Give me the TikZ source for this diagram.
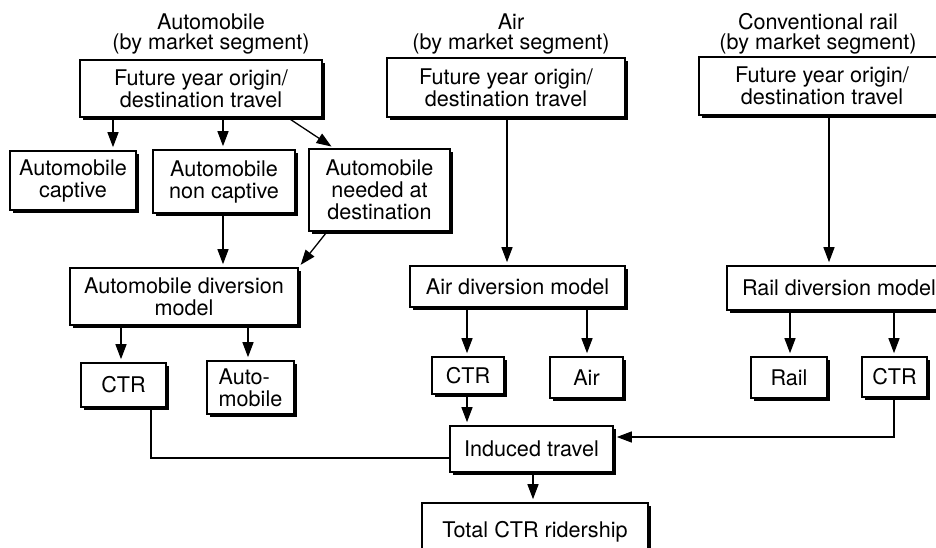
\documentclass[tikz,border=0pt]{standalone}
\usepackage{fontspec}
\setmainfont{TeX Gyre Heros}
\usetikzlibrary{arrows.meta,shadows,calc}
\newcommand\dgfont{\fontsize{21.6}{22}\selectfont}
\newcommand\dgtitlefont{\fontsize{21.6}{19.5}\selectfont}
\begin{document}
\begin{tikzpicture}[x=1pt,y=-1pt,
  box/.style={draw, line width=1.6pt, fill=white, align=center, inner sep=0pt,
    font=\dgfont,
    drop shadow={shadow xshift=3pt, shadow yshift=-3pt, fill=black, opacity=1}},
  titletext/.style={align=center, inner sep=0pt, font=\dgtitlefont},
  conn/.style={line width=1.3pt},
  arr/.style={conn, -{Triangle[length=15pt,width=11pt]}, shorten >=3pt}]
\path[use as bounding box] (0,0) rectangle (936,548);
\clip (0,0) rectangle (936,548);
\fill[white] (0,0) rectangle (936,548);

% titles
\node[titletext] (ta) at (211,34) {Automobile\\(by market segment)};
\node[titletext] (tb) at (511,34) {Air\\(by market segment)};
\node[titletext] (tc) at (818,34) {Conventional rail\\(by market segment)};

% automobile column
\node[box, minimum width=242, minimum height=57] (a0) at (201,88.5) {Future year origin/\\destination travel};
\node[box, minimum width=126, minimum height=59] (a1) at (73,180.5) {Automobile\\captive};
\node[box, minimum width=142, minimum height=63] (a2) at (224,181.5) {Automobile\\non captive};
\node[box, minimum width=141, minimum height=82] (a3) at (379.5,190) {Automobile\\needed at\\destination};
\node[box, minimum width=228, minimum height=57] (a4) at (184,296.5) {Automobile diversion\\model};
\node[box, minimum width=85, minimum height=44] (a5) at (123.5,385) {CTR};
\node[box, minimum width=87, minimum height=53, align=left] (a6) at (250.5,387.5) {Auto-\\mobile};

% air column
\node[box, minimum width=238, minimum height=59] (b0) at (506,87.5) {Future year origin/\\destination travel};
\node[box, minimum width=215, minimum height=41] (b1) at (517.5,286.5) {Air diversion model};
\node[box, minimum width=72, minimum height=37] (b2) at (468,375.5) {CTR};
\node[box, minimum width=73, minimum height=41] (b3) at (586.5,377.5) {Air};

% rail column
\node[box, minimum width=246, minimum height=58] (c0) at (822,86) {Future year origin/\\destination travel};
\node[box, minimum width=224, minimum height=44] (c1) at (839,288) {Rail diversion model};
\node[box, minimum width=76, minimum height=41] (c2) at (789,377.5) {Rail};
\node[box, minimum width=65, minimum height=40] (c3) at (894.5,377) {CTR};

% bottom
\node[box, minimum width=163, minimum height=46] (ind) at (531.5,449) {Induced travel};
\node[box, minimum width=226, minimum height=58] (tot) at (535,532) {Total CTR ridership};

% helper coordinates
\coordinate (k1) at (113,0);
\coordinate (k2) at (223,0);
\coordinate (k3) at (288,0);
\coordinate (k4) at (334,0);
\coordinate (k5) at (327,0);
\coordinate (k6) at (121,0);
\coordinate (k7) at (248,0);
\coordinate (k8) at (151,0);
\coordinate (k9) at (0,458);
\coordinate (k10) at (507,0);
\coordinate (k11) at (467,0);
\coordinate (k12) at (587,0);
\coordinate (k13) at (829,0);
\coordinate (k14) at (790,0);
\coordinate (k15) at (894,0);
\coordinate (k16) at (0,437);
\coordinate (k17) at (533,0);

% automobile connectors
\draw[arr] (a0.south -| k1) -- (a1.north -| k1);
\draw[arr] (a0.south -| k2) -- (a2.north -| k2);
\draw[arr] (a0.south -| k3) -- (a3.north -| k4);
\draw[arr] (a2.south -| k2) -- (a4.north -| k2);
\draw[arr] (a3.south -| k5) -- (a4.north east);
\draw[arr] (a4.south -| k6) -- (a5.north -| k6);
\draw[arr] (a4.south -| k7) -- (a6.north -| k7);
\draw[conn] (a5.south -| k8) |- (ind.west |- k9);

% air connectors
\draw[arr] (b0.south -| k10) -- (b1.north -| k10);
\draw[arr] (b1.south -| k11) -- (b2.north -| k11);
\draw[arr] (b1.south -| k12) -- (b3.north -| k12);
\draw[arr] (b2.south -| k11) -- (ind.north -| k11);

% rail connectors
\draw[arr] (c0.south -| k13) -- (c1.north -| k13);
\draw[arr] (c1.south -| k14) -- (c2.north -| k14);
\draw[arr] (c1.south -| k15) -- (c3.north -| k15);
\draw[arr] (c3.south -| k15) |- (ind.east |- k16);

% bottom connector
\draw[arr] (ind.south -| k17) -- (tot.north -| k17);
\end{tikzpicture}
\end{document}
